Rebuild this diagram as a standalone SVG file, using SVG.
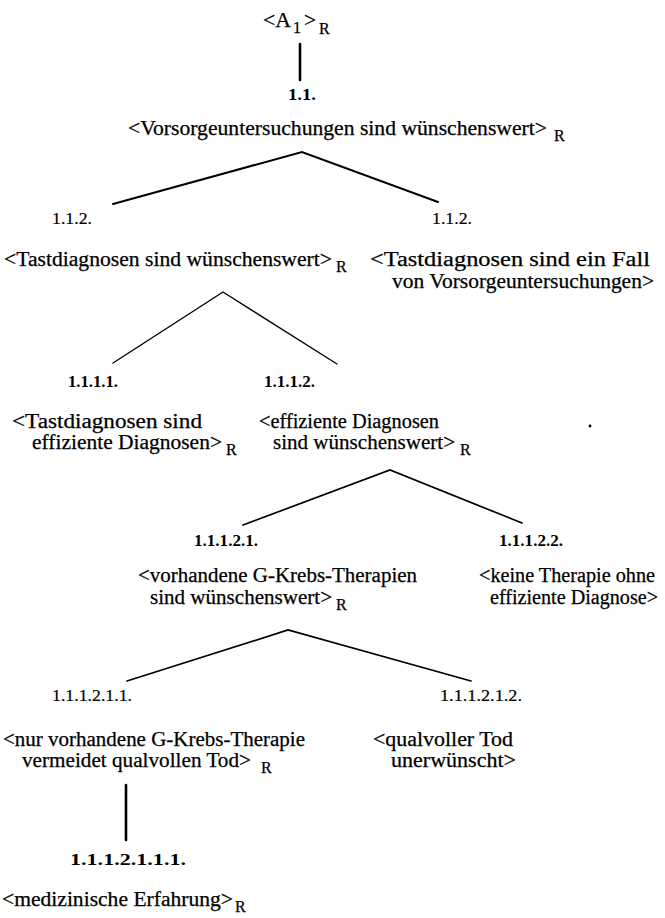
<svg xmlns="http://www.w3.org/2000/svg" width="665" height="918" viewBox="0 0 665 918">
<style>
text{font-family:"Liberation Serif","DejaVu Serif",serif;font-size:20px;fill:#000;stroke:#000;stroke-width:0.25}
.n{font-weight:bold;font-size:17px;stroke-width:0}
.m{font-size:17px;stroke-width:0.2}
.s{font-size:16px}
.thin{stroke:#000;stroke-width:1.4;fill:none;stroke-linecap:round}
.thick{stroke:#000;stroke-width:2.6;fill:none;stroke-linecap:round}
</style>
<rect width="665" height="918" fill="#fff"/>
<g id="connectors">
<line class="thick" x1="300" y1="44" x2="300" y2="80"/>
<polyline class="thin" style="stroke-width:2" points="113,204 302,152 438,202"/>
<polyline class="thin" points="113,363 223,292 337,364"/>
<polyline class="thin" style="stroke-width:1.7" points="243,525 390,470 522,523"/>
<polyline class="thin" style="stroke-width:1.7" points="127,681 288,630 471,681"/>
<line class="thick" x1="126" y1="785" x2="126" y2="840"/>
</g>
<g id="n0">
<text x="263" y="27" textLength="28" lengthAdjust="spacingAndGlyphs">&lt;A</text>
<text x="293" y="33" class="s">1</text>
<text x="304" y="27" textLength="12" lengthAdjust="spacingAndGlyphs">&gt;</text>
<text x="319" y="34" class="s">R</text>
</g>
<g id="n1">
<text x="288" y="100" class="n" textLength="28" lengthAdjust="spacingAndGlyphs">1.1.</text>
<text x="128" y="135" textLength="419" lengthAdjust="spacingAndGlyphs">&lt;Vorsorgeuntersuchungen sind wünschenswert&gt;</text>
<text x="554" y="141" class="s">R</text>
</g>
<g id="n2">
<text x="52" y="224" textLength="40" lengthAdjust="spacingAndGlyphs" class="m">1.1.2.</text>
<text x="4" y="266" textLength="328" lengthAdjust="spacingAndGlyphs">&lt;Tastdiagnosen sind wünschenswert&gt;</text>
<text x="336" y="272" class="s">R</text>
</g>
<g id="n3">
<text x="432" y="224" textLength="40" lengthAdjust="spacingAndGlyphs" class="m">1.1.2.</text>
<text x="370" y="266" textLength="280" lengthAdjust="spacingAndGlyphs">&lt;Tastdiagnosen sind ein Fall</text>
<text x="392" y="288" textLength="262" lengthAdjust="spacingAndGlyphs">von Vorsorgeuntersuchungen&gt;</text>
</g>
<g id="n4">
<text x="68" y="387" textLength="50" lengthAdjust="spacingAndGlyphs" class="n">1.1.1.1.</text>
<text x="12" y="428" textLength="190" lengthAdjust="spacingAndGlyphs">&lt;Tastdiagnosen sind</text>
<text x="32" y="449" textLength="190" lengthAdjust="spacingAndGlyphs">effiziente Diagnosen&gt;</text>
<text x="226" y="455" class="s">R</text>
</g>
<g id="n5">
<text x="264" y="387" textLength="51" lengthAdjust="spacingAndGlyphs" class="n">1.1.1.2.</text>
<text x="259" y="428" textLength="180" lengthAdjust="spacingAndGlyphs">&lt;effiziente Diagnosen</text>
<text x="273" y="449" textLength="182" lengthAdjust="spacingAndGlyphs">sind wünschenswert&gt;</text>
<text x="460" y="455" class="s">R</text>
</g>
<circle cx="590" cy="426" r="1.4" fill="#000"/>
<g id="n6">
<text x="194" y="546" textLength="64" lengthAdjust="spacingAndGlyphs" class="n">1.1.1.2.1.</text>
<text x="138" y="582" textLength="279" lengthAdjust="spacingAndGlyphs">&lt;vorhandene G-Krebs-Therapien</text>
<text x="150" y="604" textLength="182" lengthAdjust="spacingAndGlyphs">sind wünschenswert&gt;</text>
<text x="336" y="610" class="s">R</text>
</g>
<g id="n7">
<text x="499" y="546" textLength="64" lengthAdjust="spacingAndGlyphs" class="n">1.1.1.2.2.</text>
<text x="479" y="582" textLength="176" lengthAdjust="spacingAndGlyphs">&lt;keine Therapie ohne</text>
<text x="490" y="604" textLength="168" lengthAdjust="spacingAndGlyphs">effiziente Diagnose&gt;</text>
</g>
<g id="n8">
<text x="52" y="701" textLength="80" lengthAdjust="spacingAndGlyphs" class="m">1.1.1.2.1.1.</text>
<text x="3" y="746" textLength="302" lengthAdjust="spacingAndGlyphs">&lt;nur vorhandene G-Krebs-Therapie</text>
<text x="22" y="767" textLength="229" lengthAdjust="spacingAndGlyphs">vermeidet qualvollen Tod&gt;</text>
<text x="261" y="773" class="s">R</text>
</g>
<g id="n9">
<text x="440" y="701" textLength="82" lengthAdjust="spacingAndGlyphs" class="m">1.1.1.2.1.2.</text>
<text x="373" y="746" textLength="140" lengthAdjust="spacingAndGlyphs">&lt;qualvoller Tod</text>
<text x="391" y="767" textLength="125" lengthAdjust="spacingAndGlyphs">unerwünscht&gt;</text>
</g>
<g id="n10">
<text x="70" y="865" textLength="116" lengthAdjust="spacingAndGlyphs" class="n">1.1.1.2.1.1.1.</text>
<text x="2" y="906" textLength="231" lengthAdjust="spacingAndGlyphs">&lt;medizinische Erfahrung&gt;</text>
<text x="235" y="912" class="s">R</text>
</g>
</svg>
